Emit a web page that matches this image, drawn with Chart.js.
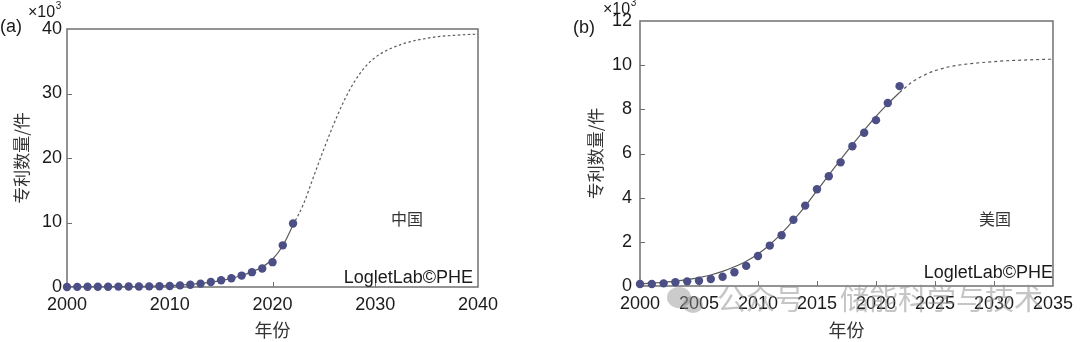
<!DOCTYPE html>
<html><head><meta charset="utf-8">
<script src="https://cdn.jsdelivr.net/npm/chart.js@4.4.1/dist/chart.umd.min.js"></script>
<style>
html,body{margin:0;padding:0;background:#fff;width:1080px;height:342px;overflow:hidden;position:relative}
.wrap{position:absolute;top:0;height:342px;width:540px}
.wm{position:absolute;font-family:"Noto Sans CJK SC";font-size:29px;line-height:29px;color:rgba(140,140,140,0.5);white-space:nowrap}
.wl{position:absolute;border-radius:50%;background:rgba(140,140,140,0.45)}
</style></head><body>
<div class="wrap" style="left:0"><canvas id="c1" width="540" height="342" style="width:540px;height:342px"></canvas></div>
<div class="wrap" style="left:540px"><canvas id="c2" width="540" height="342" style="width:540px;height:342px"></canvas></div>
<div class="wl" style="left:667px;top:287px;width:24px;height:21px"></div>
<div class="wl" style="left:683px;top:296px;width:20px;height:17px"></div>
<div class="wm" style="left:717px;top:283px">公众号</div>
<div class="wm" style="left:840px;top:283px">储能科学与技术</div>
<script>
// ---------- data ----------
const obsYears = [2000,2001,2002,2003,2004,2005,2006,2007,2008,2009,2010,2011,2012,2013,2014,2015,2016,2017,2018,2019,2020,2021,2022];
const chinaObs = [0.0,0.02,0.03,0.04,0.05,0.06,0.07,0.08,0.10,0.12,0.15,0.25,0.35,0.52,0.78,1.05,1.35,1.77,2.30,2.86,3.85,6.46,9.85];
const chinaFit = [0.0,0.01,0.02,0.03,0.04,0.05,0.07,0.09,0.12,0.16,0.22,0.30,0.40,0.55,0.75,1.00,1.33,1.78,2.35,3.10,4.30,6.40,9.60];
const chinaProjYears = [2022,2023,2024,2025,2026,2027,2028,2029,2030,2031,2032,2033,2034,2035,2036,2037,2038,2039,2040];
const chinaProj = [9.6,12.8,17.1,21.4,25.4,29.0,31.9,34.1,35.6,36.6,37.3,37.85,38.25,38.55,38.8,38.95,39.05,39.15,39.2];

const usaObs = [0.09,0.09,0.12,0.17,0.21,0.24,0.32,0.42,0.62,0.91,1.36,1.83,2.30,3.00,3.64,4.38,4.97,5.60,6.33,6.94,7.51,8.29,9.05];
const usaFit = [0.10,0.13,0.17,0.22,0.29,0.38,0.50,0.66,0.87,1.12,1.45,1.87,2.38,2.97,3.62,4.32,5.02,5.72,6.40,7.05,7.68,8.25,8.76];
const usaProjYears = [2022,2023,2024,2025,2026,2027,2028,2029,2030,2031,2032,2033,2034,2035];
const usaProj = [8.76,9.21,9.53,9.75,9.90,10.00,10.07,10.12,10.16,10.20,10.22,10.24,10.26,10.27];

const xTitle = '年份';
const yTitle = '专利数量/件';
const panelLabels = ['(a)','(b)'];
const countryLabels = ['中国','美国'];
const sourceLabel = 'LogletLab©PHE';
const unitBase = '×10';
const unitExp = '3';

// ---------- helpers ----------
const pts = (xs, ys) => xs.map((x,i)=>({x:x, y:ys[i]}));
const LAT = '"Liberation Sans", Arial, sans-serif';
const CJK = '"Noto Sans CJK SC", sans-serif';
const markerColor = '#4c4e86';
const lineColor = '#5a5a5a';
const frameColor = '#707070';

const framePlugin = {
  id: 'frame',
  beforeDatasetsDraw(chart) {
    const {ctx, chartArea: a} = chart;
    ctx.save();
    ctx.strokeStyle = frameColor;
    ctx.lineWidth = 1.5;
    ctx.strokeRect(a.left, a.top, a.right - a.left, a.bottom - a.top);
    ctx.lineWidth = 1;
    const xs = chart.scales.x, ys = chart.scales.y;
    ctx.beginPath();
    xs.ticks.forEach(t => {
      if (t.value === xs.min || t.value === xs.max) return;
      const px = Math.round(xs.getPixelForValue(t.value)) + 0.5;
      ctx.moveTo(px, a.bottom); ctx.lineTo(px, a.bottom - 5);
    });
    ys.ticks.forEach(t => {
      if (t.value === ys.min || t.value === ys.max) return;
      const py = Math.round(ys.getPixelForValue(t.value)) + 0.5;
      ctx.moveTo(a.left, py); ctx.lineTo(a.left + 5, py);
    });
    ctx.stroke();
    ctx.restore();
  },
  afterDraw(chart) {
    const o = chart.options.plugins.frame;
    const ctx = chart.ctx;
    ctx.save();
    ctx.fillStyle = '#1a1a1a';
    ctx.textBaseline = 'middle';
    ctx.textAlign = 'left';
    ctx.font = '18px ' + LAT;
    ctx.fillText(o.panel, o.panelX, o.panelY);
    ctx.textBaseline = 'alphabetic';
    ctx.font = '16px ' + LAT;
    ctx.fillText(unitBase, o.unitX, o.unitY);
    const w = ctx.measureText(unitBase).width;
    ctx.font = '10px ' + LAT;
    ctx.fillText(unitExp, o.unitX + w + 0.5, o.unitY - 8);
    ctx.font = '16px ' + CJK;
    ctx.textAlign = 'center';
    ctx.textBaseline = 'middle';
    ctx.fillStyle = '#333';
    ctx.fillText(o.country, o.countryX, o.countryY);
    ctx.fillStyle = '#1a1a1a';
    ctx.font = '18px ' + LAT;
    ctx.textAlign = 'right';
    ctx.textBaseline = 'alphabetic';
    ctx.fillText(sourceLabel, o.srcX, o.srcY);
    ctx.restore();
  }
};

function makeChart(id, c) {
  return new Chart(document.getElementById(id), {
    type: 'scatter',
    data: { datasets: [
      { type:'scatter', data: c.obs, backgroundColor: markerColor, borderColor: markerColor, borderWidth: 0, pointRadius: 4.2, order: 0, clip: false },
      { type:'line', data: c.fit, borderColor: lineColor, borderWidth: 1.2, pointRadius: 0, fill: false, cubicInterpolationMode: 'monotone', order: 1 },
      { type:'line', data: c.proj, borderColor: lineColor, borderWidth: 1.2, borderDash: c.dash, pointRadius: 0, fill: false, cubicInterpolationMode: 'monotone', order: 1 }
    ]},
    options: {
      responsive: false, animation: false, devicePixelRatio: 1,
      layout: { padding: { top: c.top, right: c.right, left: 0, bottom: 0 } },
      plugins: { legend: { display: false }, tooltip: { enabled: false }, frame: c.frame },
      scales: {
        x: {
          type: 'linear', min: c.xmin, max: c.xmax,
          ticks: { stepSize: c.xstep, callback: v => String(v), font: { family: LAT, size: 18 }, color: '#1a1a1a', padding: 7, maxRotation: 0, autoSkip: false },
          grid: { display: false, drawTicks: false }, border: { display: false },
          title: { display: true, text: xTitle, font: { family: CJK, size: 18 }, color: '#333', padding: { top: 0, bottom: 1 } },
          afterFit: s => { s.height = c.xh; }
        },
        y: {
          type: 'linear', min: 0, max: c.ymax,
          ticks: { stepSize: c.ystep, callback: v => String(v), font: { family: LAT, size: 18 }, color: '#1a1a1a', padding: c.ypad },
          grid: { display: false, drawTicks: false }, border: { display: false },
          title: { display: true, text: yTitle, font: { family: CJK, size: 17 }, color: '#333', padding: { top: c.ytitlePad, bottom: 0 } },
          afterFit: s => { s.width = c.yw; }
        }
      }
    },
    plugins: [framePlugin]
  });
}

makeChart('c1', {
  obs: pts(obsYears, chinaObs), fit: pts(obsYears, chinaFit), proj: pts(chinaProjYears, chinaProj),
  dash: [2.5, 2.5], top: 29, right: 62, xh: 55, yw: 67, ypad: 5, ytitlePad: 11,
  xmin: 2000, xmax: 2040, xstep: 10, ymax: 40, ystep: 10,
  frame: { panel: panelLabels[0], panelX: 0, panelY: 27, unitX: 28, unitY: 17,
           country: countryLabels[0], countryX: 407, countryY: 219, srcX: 473, srcY: 283 }
});
makeChart('c2', {
  obs: pts(obsYears, usaObs), fit: pts(obsYears, usaFit), proj: pts(usaProjYears, usaProj),
  dash: [3, 3], top: 21, right: 19, xh: 56, yw: 100, ypad: 8, ytitlePad: 45,
  xmin: 2000, xmax: 2035, xstep: 5, ymax: 12, ystep: 2,
  frame: { panel: panelLabels[1], panelX: 33, panelY: 28, unitX: 63, unitY: 14,
           country: countryLabels[1], countryX: 455, countryY: 219, srcX: 513, srcY: 278 }
});
</script>
</body></html>
